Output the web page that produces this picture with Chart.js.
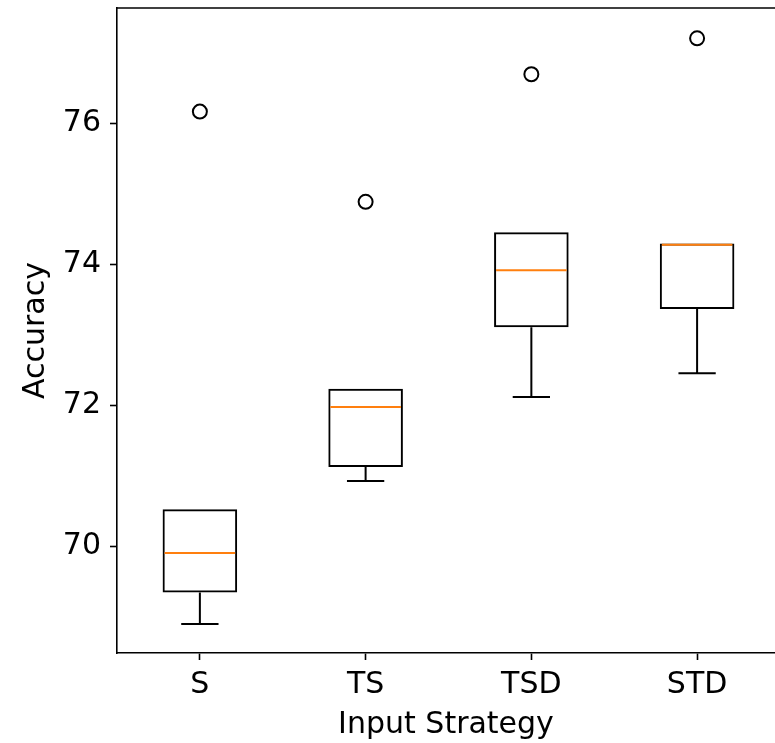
<!DOCTYPE html>
<html><head><meta charset="utf-8">
<script src="https://cdn.jsdelivr.net/npm/chart.js@4/dist/chart.umd.min.js"></script>
<style>
html,body{margin:0;padding:0;overflow:hidden;background:#fff;width:775px;height:743px}
canvas{display:block}
</style></head>
<body><canvas id="c" width="775" height="743"></canvas>
<script>
// ---- data ----
const categories  = ['S', 'TS', 'TSD', 'STD'];
const positions   = [1, 2, 3, 4];
const whiskerLow  = [68.90, 70.93, 72.12, 72.46];
const q1          = [69.35, 71.13, 73.11, 73.37];
const median      = [69.91, 71.98, 73.92, 74.28];
const q3          = [70.53, 72.24, 74.46, 74.30];
const whiskerHigh = [70.53, 72.24, 74.46, 74.30];
const outliers    = [76.17, 74.89, 76.70, 77.21];
const yTicks      = [70, 72, 74, 76];
const yMin = 68.49, yMax = 77.64;
const xMin = 0.5, xMax = 4.47;   // visible x range (right side cropped as in the reference)

const FONT = {family: '"DejaVu Sans", sans-serif', size: 30};
const INK = '#000';

const boxPlotExtras = {
  id: 'boxPlotExtras',
  afterDatasetsDraw(chart) {
    const ctx = chart.ctx, y = chart.scales.y, area = chart.chartArea;
    const meta = chart.getDatasetMeta(0);
    ctx.save();
    ctx.lineCap = 'butt';
    meta.data.forEach((bar, i) => {
      const w = bar.width, x = bar.x;
      ctx.strokeStyle = INK; ctx.lineWidth = 2;
      ctx.beginPath();
      if (whiskerLow[i] < q1[i]) {
        const yq = y.getPixelForValue(q1[i]), yl = y.getPixelForValue(whiskerLow[i]);
        ctx.moveTo(x, yq); ctx.lineTo(x, yl);
        ctx.moveTo(x - w / 4, yl); ctx.lineTo(x + w / 4, yl);
      }
      if (whiskerHigh[i] > q3[i]) {
        const yq = y.getPixelForValue(q3[i]), yh = y.getPixelForValue(whiskerHigh[i]);
        ctx.moveTo(x, yq); ctx.lineTo(x, yh);
        ctx.moveTo(x - w / 4, yh); ctx.lineTo(x + w / 4, yh);
      }
      ctx.stroke();
      const ym = y.getPixelForValue(median[i]);
      ctx.strokeStyle = '#ff7f0e'; ctx.lineWidth = 2;
      ctx.beginPath();
      ctx.moveTo(x - w / 2 + 2, ym); ctx.lineTo(x + w / 2 - 2, ym);
      ctx.stroke();
    });
    ctx.strokeStyle = INK; ctx.lineWidth = 1.6;
    ctx.beginPath();
    ctx.moveTo(area.left, area.top); ctx.lineTo(area.right, area.top);
    ctx.stroke();
    ctx.restore();
  }
};

const axisGrid = {offset: false, drawOnChartArea: false, drawTicks: true, tickLength: 7, tickWidth: 1.6, tickColor: INK};
const axisBorder = {display: true, color: INK, width: 1.6};

new Chart(document.getElementById('c'), {
  type: 'bar',
  data: {
    datasets: [
      {
        type: 'bar',
        data: positions.map((p, i) => ({x: p, y: [q1[i], q3[i]]})),
        backgroundColor: 'rgba(0,0,0,0)',
        borderColor: INK,
        borderWidth: 2,
        borderSkipped: false,
        barPercentage: 0.45,
        categoryPercentage: 1
      },
      {
        type: 'scatter',
        data: positions.map((p, i) => ({x: p, y: outliers[i]})),
        pointStyle: 'circle',
        pointRadius: 7,
        pointBorderWidth: 2,
        pointBackgroundColor: 'rgba(0,0,0,0)',
        pointBorderColor: INK,
        showLine: false
      }
    ]
  },
  options: {
    responsive: false,
    devicePixelRatio: 1,
    animation: false,
    layout: {autoPadding: false, padding: {top: 8, right: 0, bottom: 0, left: 0}},
    plugins: {legend: {display: false}, tooltip: {enabled: false}},
    scales: {
      x: {
        type: 'linear',
        min: xMin,
        max: xMax,
        offset: false,
        afterBuildTicks(s) { s.ticks = positions.map(v => ({value: v})); },
        grid: axisGrid,
        border: axisBorder,
        ticks: {font: FONT, color: INK, padding: 7, maxRotation: 0, autoSkip: false,
                callback: v => categories[positions.indexOf(v)]},
        title: {display: true, text: 'Input Strategy', font: FONT, color: INK, padding: {top: 0, bottom: 0}},
        afterFit(s) { s.height = 90; s.paddingLeft = 0; s.paddingRight = 0; }
      },
      y: {
        type: 'linear',
        min: yMin,
        max: yMax,
        afterBuildTicks(s) { s.ticks = yTicks.map(v => ({value: v})); },
        grid: axisGrid,
        border: axisBorder,
        ticks: {font: FONT, color: INK, padding: 9, callback: v => String(v)},
        title: {display: true, text: 'Accuracy', font: FONT, color: INK, padding: {top: 18, bottom: 0}},
        afterFit(s) { s.width = 117; s.paddingTop = 0; s.paddingBottom = 0; }
      }
    }
  },
  plugins: [boxPlotExtras]
});
</script>
</body></html>
